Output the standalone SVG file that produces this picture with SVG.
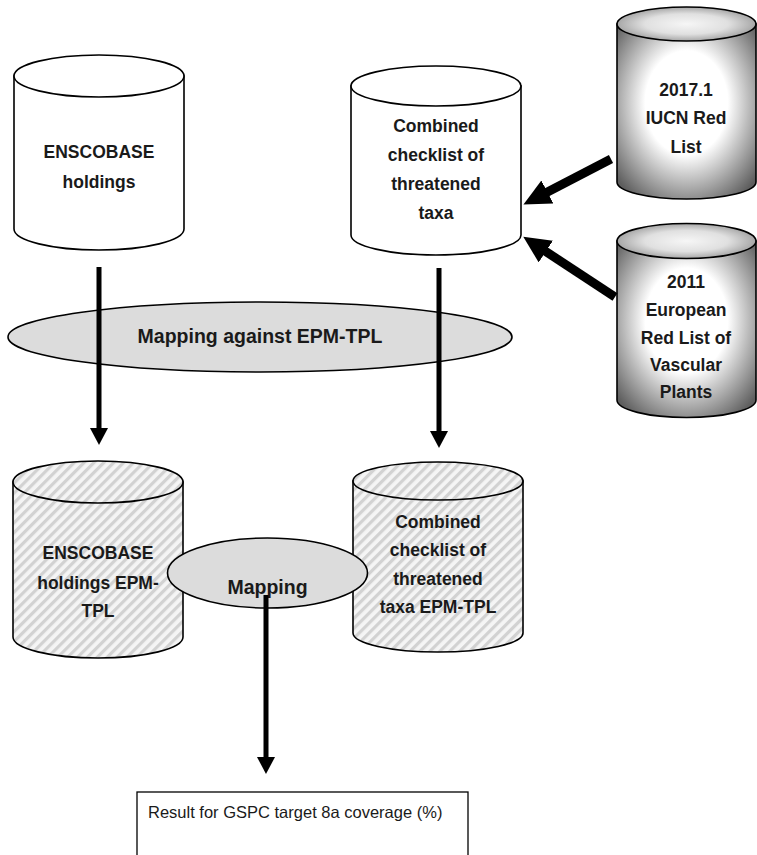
<svg xmlns="http://www.w3.org/2000/svg" width="757" height="855" viewBox="0 0 757 855">
<style>
.cyl{stroke:#000;stroke-width:1.6;}
.plain{fill:#fff;}
.hatch{fill:url(#stripes);}
.grad{fill:url(#gbody);}
.gtop{fill:url(#gtop);}
.lbl{font-family:"Liberation Sans",Arial,sans-serif;font-weight:bold;font-size:17.5px;fill:#1a1a1a;text-anchor:middle;}
.oval{fill:#dcdcdc;stroke:#000;stroke-width:1.6;}
.conn{stroke:#000;stroke-width:5;fill:none;}
.connBig{stroke:#000;stroke-width:9;fill:none;}
.res{font-family:"Liberation Sans",Arial,sans-serif;font-size:16.5px;fill:#1a1a1a;}
</style>
<defs>
<pattern id="stripes" patternUnits="userSpaceOnUse" width="7" height="7" patternTransform="rotate(45)">
<rect width="7" height="7" fill="#f5f5f5"/>
<rect width="3.2" height="7" fill="#d2d2d2"/>
</pattern>
<radialGradient id="gbody" cx="0.5" cy="0.45" r="0.66">
<stop offset="0" stop-color="#fff"/>
<stop offset="0.45" stop-color="#fff"/>
<stop offset="1" stop-color="#5e5e5e"/>
</radialGradient>
<radialGradient id="gtop" cx="0.5" cy="0.5" r="0.6">
<stop offset="0" stop-color="#f6f6f6"/>
<stop offset="0.5" stop-color="#e0e0e0"/>
<stop offset="1" stop-color="#8a8a8a"/>
</radialGradient>
<marker id="ah" markerUnits="userSpaceOnUse" markerWidth="17" markerHeight="18" viewBox="0 0 17 18" refX="1" refY="9" orient="auto">
<path d="M0,0 L17,9 L0,18 z" fill="#000"/>
</marker>
<marker id="ahBig" markerUnits="userSpaceOnUse" markerWidth="27" markerHeight="26" viewBox="0 0 27 26" refX="1" refY="13" orient="auto">
<path d="M0,0 L27,13 L0,26 z" fill="#000"/>
</marker>
</defs>

<g id="enscobase">
<path class="cyl plain" d="M14,76 V229 A85,21 0 0 0 184,229 V76 Z"/>
<ellipse class="cyl plain" cx="99" cy="76" rx="85" ry="21"/>
<text class="lbl" x="99" y="158">ENSCOBASE</text>
<text class="lbl" x="99" y="188">holdings</text>
</g>

<g id="combined">
<path class="cyl plain" d="M351,86 V235 A85,20 0 0 0 521,235 V86 Z"/>
<ellipse class="cyl plain" cx="436" cy="86" rx="85" ry="20"/>
<text class="lbl" x="436" y="132">Combined</text>
<text class="lbl" x="436" y="161">checklist of</text>
<text class="lbl" x="436" y="190">threatened</text>
<text class="lbl" x="436" y="219">taxa</text>
</g>

<g id="iucn">
<path class="cyl grad" d="M617,24 V182 A69.5,17 0 0 0 756,182 V24 Z"/>
<ellipse class="cyl gtop" cx="686.5" cy="24" rx="69.5" ry="17"/>
<text class="lbl" x="686" y="96">2017.1</text>
<text class="lbl" x="686" y="124">IUCN Red</text>
<text class="lbl" x="686" y="153">List</text>
</g>

<g id="european">
<path class="cyl grad" d="M617,241 V400 A69.5,17.5 0 0 0 756,400 V241 Z"/>
<ellipse class="cyl gtop" cx="686.5" cy="241" rx="69.5" ry="17.5"/>
<text class="lbl" x="686" y="288">2011</text>
<text class="lbl" x="686" y="316">European</text>
<text class="lbl" x="686" y="344">Red List of</text>
<text class="lbl" x="686" y="371">Vascular</text>
<text class="lbl" x="686" y="398">Plants</text>
</g>

<g id="mapping-epm">
<ellipse class="oval" cx="260" cy="337" rx="252" ry="35"/>
<text class="lbl" x="260" y="343" style="font-size:19.5px">Mapping against EPM-TPL</text>
</g>

<g id="enscobase-epm">
<path class="cyl hatch" d="M13,482 V637 A85,21 0 0 0 183,637 V482 Z"/>
<ellipse class="cyl hatch" cx="98" cy="482" rx="85" ry="21"/>
<text class="lbl" x="98" y="559">ENSCOBASE</text>
<text class="lbl" x="98" y="589">holdings EPM-</text>
<text class="lbl" x="98" y="617">TPL</text>
</g>

<g id="combined-epm">
<path class="cyl hatch" d="M353,481 V633 A85,19 0 0 0 523,633 V481 Z"/>
<ellipse class="cyl hatch" cx="438" cy="481" rx="85" ry="19"/>
<text class="lbl" x="438" y="528">Combined</text>
<text class="lbl" x="438" y="556">checklist of</text>
<text class="lbl" x="438" y="585">threatened</text>
<text class="lbl" x="438" y="613">taxa EPM-TPL</text>
</g>

<g id="mapping">
<ellipse class="oval" cx="267.5" cy="573" rx="100" ry="35"/>
<text class="lbl" x="267.5" y="594" style="font-size:19.5px">Mapping</text>
</g>

<g id="result">
<rect x="137" y="792" width="331" height="75" fill="#fff" stroke="#000" stroke-width="1.3"/>
<text class="res" x="148" y="818">Result for GSPC target 8a coverage (%)</text>
</g>

<g id="connectors">
<line class="conn" x1="99" y1="267" x2="99" y2="429" marker-end="url(#ah)"/>
<line class="conn" x1="439" y1="268" x2="439" y2="432" marker-end="url(#ah)"/>
<line class="conn" x1="266" y1="595" x2="266" y2="758" marker-end="url(#ah)"/>
<line class="connBig" x1="611" y1="159" x2="546.5" y2="192.5" marker-end="url(#ahBig)"/>
<line class="connBig" x1="615" y1="297" x2="545" y2="251" marker-end="url(#ahBig)"/>
</g>
</svg>
